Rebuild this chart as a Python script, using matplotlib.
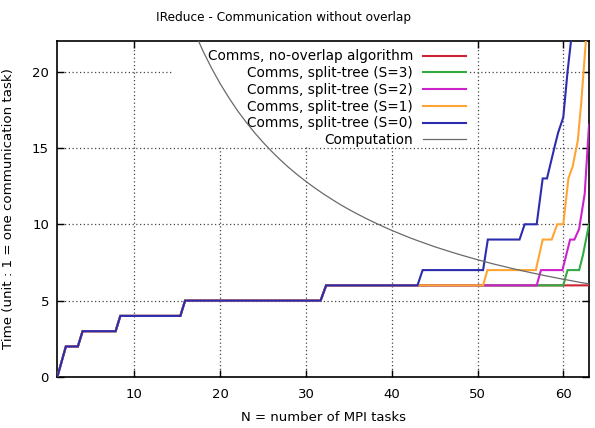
import matplotlib
matplotlib.use("Agg")
import matplotlib.pyplot as plt
from matplotlib.patches import Rectangle

# ---- data ----
base_n = [1, 2, 3.4, 3.95, 7.8, 8.35, 15.35, 15.9, 31.7, 32.35]
base_t = [0, 2, 2, 3, 3, 4, 4, 5, 5, 6]

red_n = [63]
red_t = [6]

green_n = [60.0, 60.5, 61.85, 62.3, 63.0]
green_t = [6, 7, 7, 8, 10]

magenta_n = [56.9, 57.4, 59.9, 60.8, 61.3, 61.85, 62.5, 63.0]
magenta_t = [6, 7, 7, 9, 9, 9.7, 12, 16.5]

orange_n = [50.65, 51.15, 56.8, 57.6, 58.65, 59.3, 60.0, 60.6, 61.1, 61.7, 62.1, 62.7]
orange_t = [6, 7, 7, 9, 9, 10, 10, 13, 13.8, 15.5, 18, 22.5]

blue_n = [43.0, 43.6, 50.65, 51.2, 54.9, 55.5, 56.9, 57.6, 58.1, 59.0, 59.4, 60.0, 60.5, 61.0]
blue_t = [6, 7, 7, 9, 9, 10, 10, 13, 13, 15.1, 16, 17, 20, 22.5]

comp_n = list(range(17, 64))
comp_t = [22.59, 21.33, 20.21, 19.2, 18.29, 17.45, 16.70, 16.0, 15.36, 14.77,
          14.22, 13.71, 13.24, 12.8, 12.39, 12.0, 11.64, 11.29, 10.97, 10.67,
          10.38, 10.11, 9.85, 9.6, 9.37, 9.14, 8.93, 8.73, 8.53, 8.35, 8.17,
          8.0, 7.84, 7.68, 7.53, 7.38, 7.25, 7.11, 6.98, 6.86, 6.74, 6.62,
          6.51, 6.4, 6.30, 6.19, 6.10]

labels = ["Comms, no-overlap algorithm", "Comms, split-tree (S=3)",
          "Comms, split-tree (S=2)", "Comms, split-tree (S=1)",
          "Comms, split-tree (S=0)", "Computation"]
colors = ["#cc2233", "#33aa44", "#cc22cc", "#ffa533", "#2c2cb0", "#6a6a6a"]

x_ticks = [10, 20, 30, 40, 50, 60]
y_ticks = [0, 5, 10, 15, 20]

plt.rcParams['font.family'] = ['DejaVu Sans']
fig = plt.figure(figsize=(5.95, 4.28), dpi=100)
ax = fig.add_axes([57.3 / 595, 1 - 377 / 428, (589 - 57.3) / 595, (377 - 41) / 428])

series = [(red_n, red_t), (green_n, green_t), (magenta_n, magenta_t),
          (orange_n, orange_t), (blue_n, blue_t)]
for i, (n, t) in enumerate(series):
    ax.plot(base_n + n, base_t + t, color=colors[i], lw=1.5, label=labels[i],
            zorder=3 + i, solid_joinstyle='miter')
ax.plot(comp_n, comp_t, color=colors[5], lw=0.9, label=labels[5], zorder=9)

ax.set_xlim(1, 63)
ax.set_ylim(0, 22)
ax.set_xticks(x_ticks)
ax.set_yticks(y_ticks)
ax.tick_params(direction='in', length=5, width=1, top=True, right=True,
               labelsize=9.5)
ax.tick_params(axis='x', pad=8)
ax.tick_params(axis='y', pad=6)
ax.grid(True, color='#444444', linestyle=(0, (1, 2)), lw=0.9)
ax.set_axisbelow(True)
for s in ax.spines.values():
    s.set_linewidth(1.2)

ax.set_xlabel("N = number of MPI tasks", fontsize=9.5, labelpad=7)
ax.set_ylabel("Time (unit : 1 = one communication task)", fontsize=9.6)
ax.yaxis.set_label_coords(-0.079, 0.5)
fig.text(283.5 / 595, 1 - 17 / 428, "IReduce - Communication without overlap",
         ha='center', va='center', fontsize=8.7)

# opaque key background (covers the grid, not the curves)
ax.add_patch(Rectangle((0.2176, 0.6845), 0.776 - 0.2176, 1 - 0.6845,
                       transform=ax.transAxes, facecolor='white',
                       edgecolor='none', zorder=2.5))

leg = ax.legend(loc='upper right', bbox_to_anchor=(0.785, 1.0), markerfirst=False,
                frameon=False, fontsize=9.8, handlelength=3.2,
                handletextpad=0.7, labelspacing=0.2, borderaxespad=0,
                borderpad=0.62)
leg.set_zorder(2.6)

fig.savefig("out.png", dpi=100)
